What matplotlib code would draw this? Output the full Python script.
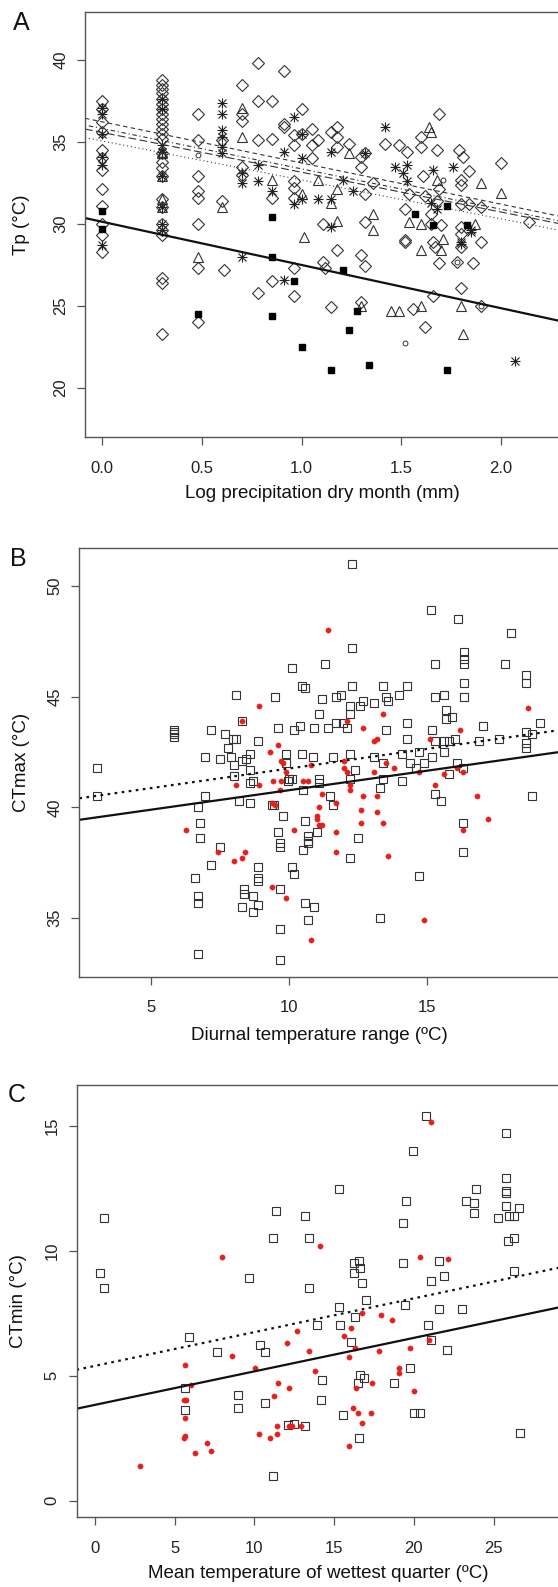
import numpy as np
import matplotlib.pyplot as plt

plt.rcParams['font.family'] = ['Liberation Sans', 'DejaVu Sans']

# ---------------- panel A: Tp vs log precipitation of driest month
diamonds = [
    (0.0, 37.5), (0.0, 37.0), (0.0, 36.2), (0.0, 35.6), (0.0, 34.5), (0.0, 34.0),
    (0.0, 33.3), (0.0, 32.1), (0.0, 31.1), (0.0, 30.0), (0.0, 29.3), (0.0, 28.3),
    (0.3, 38.8), (0.3, 38.5), (0.3, 38.2), (0.3, 38.0), (0.3, 37.6), (0.3, 37.3),
    (0.3, 37.0), (0.3, 36.7), (0.3, 36.4), (0.3, 36.1), (0.3, 35.8), (0.3, 35.5),
    (0.3, 35.2), (0.3, 34.3), (0.3, 33.8), (0.3, 33.4), (0.3, 32.9), (0.3, 31.5),
    (0.3, 31.0), (0.3, 30.0), (0.3, 29.6), (0.3, 29.3), (0.3, 26.7), (0.3, 26.4),
    (0.3, 23.3),
    (0.48, 36.7), (0.48, 35.1), (0.48, 32.9), (0.48, 32.0), (0.48, 31.6),
    (0.48, 30.0), (0.48, 27.3), (0.48, 24.0),
    (0.60, 35.1), (0.60, 31.4), (0.61, 27.2),
    (0.70, 38.5), (0.70, 36.7), (0.70, 36.3), (0.70, 33.5), (0.70, 33.0),
    (0.78, 39.8), (0.78, 37.5), (0.78, 35.1), (0.78, 25.8),
    (0.85, 37.5), (0.85, 35.2), (0.85, 31.6), (0.85, 26.5),
    (0.91, 39.3), (0.91, 36.1), (0.91, 35.9),
    (0.96, 35.4), (0.96, 34.8), (0.96, 32.6), (0.96, 32.2), (0.96, 31.6),
    (0.96, 27.3), (0.96, 25.6),
    (1.00, 37.0), (1.00, 35.5),
    (1.05, 35.8), (1.05, 34.8), (1.05, 34.0), (1.08, 35.1),
    (1.11, 30.0), (1.11, 27.7), (1.12, 27.3),
    (1.15, 35.6), (1.15, 24.9),
    (1.18, 35.9), (1.18, 35.3), (1.18, 34.7), (1.18, 28.4),
    (1.24, 34.9),
    (1.30, 34.1), (1.30, 33.5), (1.30, 28.1), (1.30, 25.2),
    (1.32, 34.3), (1.32, 31.8), (1.32, 30.1), (1.32, 27.4),
    (1.36, 32.5), (1.42, 34.9), (1.49, 34.8), (1.53, 34.4), (1.54, 31.8),
    (1.52, 30.9), (1.52, 29.0), (1.52, 28.9), (1.56, 24.8),
    (1.60, 35.3), (1.60, 34.7), (1.61, 32.9), (1.62, 31.7), (1.62, 23.7),
    (1.69, 36.7), (1.69, 32.1), (1.69, 27.6), (1.68, 34.5), (1.68, 31.4),
    (1.65, 30.6), (1.65, 30.0), (1.70, 29.9), (1.66, 28.9), (1.66, 25.6),
    (1.67, 28.6),
    (1.79, 34.5), (1.81, 34.1), (1.84, 33.2), (1.84, 31.2),
    (1.80, 32.7), (1.80, 32.4), (1.80, 31.2), (1.80, 29.8), (1.80, 29.4),
    (1.80, 28.6), (1.80, 26.1),
    (1.90, 31.0), (1.90, 28.9), (1.90, 25.0), (1.78, 27.7), (1.86, 27.6),
    (2.00, 33.7), (2.14, 30.1),
]
triangles = [
    (0.3, 34.4), (0.3, 34.3), (0.3, 32.9), (0.3, 31.5), (0.3, 31.0),
    (0.48, 28.0), (0.60, 31.0), (0.70, 37.1), (0.70, 35.3), (0.85, 32.7),
    (1.00, 31.8), (1.01, 29.2), (1.08, 32.7), (1.15, 31.3), (1.18, 30.2),
    (1.18, 32.1), (1.24, 34.3), (1.30, 25.0), (1.36, 30.6), (1.36, 29.6),
    (1.45, 24.7), (1.49, 24.7), (1.54, 30.1), (1.64, 35.9), (1.65, 35.6),
    (1.68, 32.7), (1.60, 30.0), (1.60, 28.4), (1.60, 25.0), (1.71, 29.1),
    (1.70, 28.4), (1.87, 30.0), (1.90, 32.5), (1.80, 25.0), (1.81, 23.3),
    (2.00, 31.9),
]
asterisks = [
    (0.0, 37.1), (0.0, 36.7), (0.0, 35.5), (0.0, 34.1), (0.0, 33.6), (0.0, 28.7),
    (0.3, 37.6), (0.3, 37.0), (0.3, 34.8), (0.3, 34.4), (0.3, 32.9), (0.3, 31.0),
    (0.3, 30.0), (0.3, 29.6),
    (0.60, 37.4), (0.60, 36.7), (0.60, 35.7), (0.60, 35.3), (0.60, 34.7), (0.60, 34.3),
    (0.70, 33.1), (0.70, 32.5), (0.70, 28.0), (0.78, 33.6), (0.78, 32.6),
    (0.85, 32.0), (0.91, 34.4), (0.91, 26.6), (0.96, 36.5), (0.96, 31.2),
    (1.00, 35.5), (1.00, 34.0), (1.00, 31.5), (1.08, 31.5),
    (1.15, 34.4), (1.15, 31.5), (1.15, 29.8), (1.21, 32.7), (1.26, 32.0),
    (1.32, 34.3), (1.42, 35.9), (1.47, 33.5), (1.51, 33.1), (1.53, 33.6),
    (1.53, 32.6), (1.66, 33.3), (1.65, 31.3), (1.68, 30.9), (1.76, 33.5),
    (1.85, 29.6), (1.85, 29.5), (1.80, 28.9), (1.80, 28.8), (2.07, 21.6),
]
filled_sq = [
    (0.0, 30.8), (0.0, 29.7), (0.48, 24.5), (0.85, 30.4), (0.85, 28.0),
    (0.85, 24.4), (0.96, 26.5), (1.00, 22.5), (1.15, 21.1), (1.21, 27.2),
    (1.24, 23.5), (1.28, 24.7), (1.34, 21.4), (1.57, 30.6), (1.66, 29.9),
    (1.73, 31.1), (1.73, 21.1), (1.83, 29.9),
]
small_circ = [(0.48, 34.2), (1.52, 22.7), (1.78, 27.7), (1.90, 25.0), (1.71, 32.7)]

# regression lines of panel A: (intercept, slope)
tp_fit_main = (30.13, -2.64)
tp_fit_dashed = (36.23, -2.515)
tp_fit_dashdot = (35.82, -2.464)
tp_fit_longdash = (35.58, -2.43)
tp_fit_dotted = (35.06, -2.38)

# ---------------- panel B: CTmax vs diurnal temperature range
ctmax_sq = [
    (12.29, 51.0), (15.13, 48.9), (16.13, 48.5), (18.03, 47.9), (12.29, 47.2),
    (11.29, 46.5), (10.10, 46.3), (15.30, 46.5), (17.81, 46.5), (16.33, 47.0),
    (16.33, 46.7), (16.33, 46.5), (16.33, 45.6), (18.6, 46.0), (18.6, 45.6),
    (10.49, 45.5), (10.6, 45.4), (12.29, 45.5), (13.39, 45.5), (14.29, 45.5),
    (8.08, 45.1), (9.48, 45.0), (11.2, 44.9), (11.71, 45.0), (11.88, 45.1),
    (12.2, 44.6), (12.68, 44.8), (12.59, 44.6), (13.1, 44.7), (13.52, 45.0),
    (13.6, 44.8), (14.0, 45.1), (15.3, 45.0), (15.6, 45.1), (16.33, 45.0),
    (11.1, 44.2), (12.2, 44.2), (15.7, 44.4), (15.7, 44.0), (15.9, 44.1),
    (11.71, 43.8), (11.97, 43.8), (12.1, 43.6), (11.4, 43.6), (10.9, 43.6),
    (10.4, 43.7), (10.2, 43.5), (9.6, 43.6), (13.52, 43.5), (14.29, 43.8),
    (15.2, 43.5), (17.02, 43.7), (18.6, 43.4), (19.1, 43.8), (18.8, 43.3),
    (5.85, 43.2), (5.85, 43.3), (5.85, 43.4), (5.85, 43.5),
    (7.19, 43.5), (7.68, 43.3), (7.98, 43.1), (8.08, 43.1), (7.78, 42.7),
    (8.88, 43.0), (14.29, 43.1), (15.3, 43.0), (15.6, 43.0), (15.8, 43.0),
    (16.0, 43.1), (16.9, 43.0), (17.6, 43.1), (18.6, 42.9), (18.6, 42.7),
    (6.97, 42.3), (7.49, 42.2), (7.89, 42.3), (8.3, 42.1), (8.46, 42.2),
    (8.6, 42.4), (8.0, 41.9), (9.88, 42.4), (10.49, 42.4), (10.88, 42.3),
    (11.6, 42.3), (12.2, 42.4), (13.1, 42.3), (14.1, 42.4), (14.7, 42.5),
    (15.2, 42.3), (15.6, 42.5), (9.88, 42.0), (13.39, 42.0), (14.4, 42.0),
    (14.6, 41.8), (14.9, 42.0), (16.1, 42.0), (16.3, 41.8), (12.4, 41.7),
    (8.6, 41.7), (8.0, 41.4), (15.8, 41.5), (10.0, 41.3), (11.1, 41.3),
    (12.2, 41.3), (13.4, 41.3), (3.05, 41.8), (8.69, 41.2), (3.05, 40.5),
    (6.69, 40.0), (6.97, 40.5), (6.79, 39.3), (6.79, 38.6), (7.49, 38.2),
    (7.19, 37.4), (6.59, 36.8), (6.69, 36.0), (6.69, 35.7), (6.69, 33.4),
    (8.2, 40.3), (8.6, 40.2), (8.6, 41.1), (9.37, 40.1), (9.46, 40.1),
    (9.79, 39.6), (9.6, 38.9), (9.69, 38.4), (9.69, 38.2), (8.89, 37.3),
    (8.89, 36.8), (8.89, 36.7), (8.38, 36.3), (8.38, 36.1), (8.69, 36.0),
    (8.89, 35.6), (8.3, 35.5), (8.69, 35.3), (9.69, 36.3), (9.69, 34.5),
    (9.69, 33.1), (10.1, 37.3), (10.2, 37.0), (9.97, 41.2), (10.1, 41.3),
    (10.5, 40.8), (10.6, 39.4), (10.7, 38.7), (10.7, 38.5), (10.7, 38.4),
    (10.5, 38.1), (10.6, 35.7), (10.9, 35.5), (10.7, 34.9), (11.0, 38.9),
    (11.1, 41.1), (11.5, 40.5), (11.6, 40.1), (12.5, 38.6), (12.2, 37.7),
    (13.3, 40.9), (14.1, 41.2), (13.3, 35.0), (14.7, 36.9), (15.3, 40.6),
    (15.5, 40.3), (16.3, 39.3), (16.3, 38.0), (18.8, 40.5), (8.3, 43.9),
]
ctmax_red = [
    (11.42, 48.0), (8.92, 44.6), (8.3, 43.9), (12.1, 43.9), (12.7, 43.6),
    (13.41, 44.2), (16.2, 43.5), (18.65, 44.5), (15.1, 43.1), (13.1, 43.0),
    (13.2, 43.1), (9.6, 42.8), (9.3, 42.5), (9.7, 42.1), (9.8, 42.0),
    (10.8, 41.9), (12.0, 42.1), (12.0, 41.8), (13.5, 42.0), (13.8, 41.8),
    (9.9, 41.6), (12.1, 41.6), (13.1, 41.6), (14.7, 41.6), (15.6, 41.5),
    (16.1, 41.8), (16.3, 41.6), (9.7, 41.2), (10.7, 41.2),
    (6.28, 39.0), (7.42, 38.0), (8.0, 37.6), (8.3, 37.7), (8.4, 38.0),
    (8.1, 41.0), (8.9, 41.0), (9.43, 41.2), (9.68, 40.8), (9.4, 40.2),
    (9.5, 40.1), (9.4, 36.4), (9.9, 35.9), (10.5, 41.2), (10.2, 39.0),
    (10.8, 34.0), (11.2, 40.6), (11.1, 40.0), (11.0, 39.6), (11.0, 39.5),
    (11.1, 39.2), (11.2, 39.2), (11.7, 40.2), (11.7, 38.9), (11.7, 38.0),
    (12.2, 41.0), (12.2, 40.8), (12.6, 39.9), (12.6, 39.3), (12.7, 40.5),
    (13.2, 40.5), (13.2, 39.8), (13.4, 39.3), (13.6, 37.8), (14.9, 34.9),
    (15.3, 41.0), (16.3, 39.0), (16.8, 40.5), (17.2, 39.5),
]
ctmax_fit_solid = (39.02, 0.176)
ctmax_fit_dotted = (39.99, 0.177)

# ---------------- panel C: CTmin vs mean temperature of wettest quarter
ctmin_sq = [
    (20.76, 15.4), (25.78, 14.7), (19.98, 14.0), (15.29, 12.48), (23.88, 12.48),
    (25.78, 12.9), (25.78, 12.4), (25.78, 12.3), (23.3, 12.0), (23.77, 11.9),
    (19.49, 12.0), (25.78, 11.8), (26.58, 11.7), (23.77, 11.5), (25.29, 11.3),
    (25.96, 11.4), (26.3, 11.4), (0.56, 11.3), (11.36, 11.6), (13.17, 11.4),
    (19.3, 11.1), (11.18, 10.5), (13.4, 10.5), (25.9, 10.4), (26.3, 10.5),
    (16.25, 9.5), (16.58, 9.6), (16.65, 9.3), (16.25, 9.1), (19.3, 9.5),
    (21.6, 9.6), (26.3, 9.2), (0.29, 9.1), (0.56, 8.5), (9.67, 8.9),
    (13.4, 8.5), (16.76, 8.7), (21.1, 8.8), (21.9, 9.0),
    (16.99, 8.05), (15.29, 7.76), (19.42, 7.85), (21.6, 7.66), (23.0, 7.66),
    (16.3, 7.35), (13.9, 7.04), (15.36, 7.04), (20.87, 7.04), (5.87, 6.55),
    (16.05, 6.34), (21.1, 6.44), (7.66, 5.94), (10.38, 6.24), (10.67, 5.94),
    (22.1, 6.05), (19.78, 5.32), (16.65, 5.04), (16.88, 4.93), (16.47, 4.73),
    (18.77, 4.73), (14.24, 4.84), (5.65, 4.52), (8.95, 4.22), (8.95, 3.72),
    (10.67, 3.91), (14.17, 4.02), (5.65, 3.63), (15.58, 3.43), (20.0, 3.52),
    (20.38, 3.52), (12.08, 3.04), (12.48, 3.09), (13.2, 3.01), (16.58, 2.51),
    (26.67, 2.72), (11.18, 1.0),
]
ctmin_red = [
    (21.1, 15.15), (7.99, 9.77), (14.1, 10.2), (20.38, 9.77), (22.16, 9.67),
    (16.76, 7.53), (17.92, 7.42), (18.6, 7.24), (12.68, 6.81), (16.03, 6.92),
    (15.64, 6.61), (12.03, 6.33), (13.42, 6.01), (16.29, 6.12), (17.81, 6.01),
    (19.78, 6.12), (20.94, 6.44), (8.59, 5.81), (15.92, 5.74), (5.65, 5.43),
    (10.02, 5.32), (13.82, 5.2), (19.04, 5.32), (19.04, 5.11), (6.05, 4.62),
    (11.5, 4.72), (17.36, 4.72), (12.18, 4.52), (16.38, 4.52), (20.0, 4.41),
    (11.2, 4.19), (5.58, 4.02), (5.69, 4.02), (16.18, 3.72), (16.47, 3.52),
    (17.32, 3.52), (5.65, 3.32), (16.72, 3.12), (11.43, 3.01), (12.19, 3.01),
    (12.34, 3.01), (12.9, 3.01), (10.27, 2.69), (11.43, 2.69), (5.65, 2.58),
    (5.58, 2.5), (11.0, 2.5), (7.0, 2.31), (7.28, 1.99), (6.27, 1.9),
    (15.92, 2.19), (2.81, 1.38),
]
ctmin_fit_solid = (3.84, 0.134)
ctmin_fit_dotted = (5.40, 0.135)

ink = '#333333'
red = '#e3201b'

fig = plt.figure(figsize=(5.58, 15.87), dpi=100)
W, H = 558.0, 1587.0


def make_axes(left, top, bottom, right=560):
    return fig.add_axes([left / W, 1 - bottom / H, (right - left) / W, (bottom - top) / H])


def style(ax, xticks, yticks, xlabel, ylabel, xlab_pos, ylab_x, letter, letter_xy):
    ax.set_xticks(xticks)
    ax.set_yticks(yticks)
    for s in ax.spines.values():
        s.set_color('#555555')
        s.set_linewidth(1.0)
    ax.tick_params(direction='out', length=6, width=0.9, color='#555555',
                   labelsize=12, labelcolor='#222222')
    ax.tick_params(axis='x', pad=11)
    ax.tick_params(axis='y', pad=6)
    for lab in ax.get_yticklabels():
        lab.set_rotation(90)
        lab.set_va('center')
    ax.set_xlabel(xlabel, fontsize=13.5, color='#111111', va='center')
    ax.xaxis.set_label_coords(0.5, xlab_pos)
    ax.set_ylabel(ylabel, fontsize=13.5, color='#111111', va='center')
    ax.yaxis.set_label_coords(ylab_x, 0.5)
    fig.text(letter_xy[0] / W, 1 - letter_xy[1] / H, letter, fontsize=18,
             ha='center', va='center', color='#111111')


# ---- A
axA = make_axes(85, 12, 437)
axA.set_xlim(-0.085, 2.295)
axA.set_ylim(16.99, 42.93)
d = np.array(diamonds).T
axA.plot(d[0], d[1], 'D', ms=6.0, mfc='none', mec=ink, mew=0.8)
t = np.array(triangles).T
axA.plot(t[0], t[1], '^', ms=7.0, mfc='none', mec=ink, mew=0.8)
a = np.array(asterisks).T
axA.plot(a[0], a[1], '+', ms=7.5, mec='#222222', mew=0.8)
axA.plot(a[0], a[1], 'x', ms=5.5, mec='#222222', mew=0.8)
f = np.array(filled_sq).T
axA.plot(f[0], f[1], 's', ms=4.5, mfc='black', mec='black')
c = np.array(small_circ).T
axA.plot(c[0], c[1], 'o', ms=3.5, mfc='none', mec=ink, mew=0.7)
axA.axline((0, tp_fit_main[0]), slope=tp_fit_main[1], color='#111111', lw=1.6)
axA.axline((0, tp_fit_dashed[0]), slope=tp_fit_dashed[1], color='#333333', lw=0.8,
           dashes=(4, 3))
axA.axline((0, tp_fit_dashdot[0]), slope=tp_fit_dashdot[1], color='#333333', lw=0.8,
           dashes=(1, 2.5, 4, 2.5))
axA.axline((0, tp_fit_longdash[0]), slope=tp_fit_longdash[1], color='#333333', lw=0.8,
           dashes=(7, 3))
axA.axline((0, tp_fit_dotted[0]), slope=tp_fit_dotted[1], color='#444444', lw=0.8,
           dashes=(1, 2.5))
style(axA, [0.0, 0.5, 1.0, 1.5, 2.0], [20, 25, 30, 35, 40],
      'Log precipitation dry month (mm)', 'Tp (°C)', -0.132, -0.133,
      'A', (21, 23))
axA.set_xticklabels(['0.0', '0.5', '1.0', '1.5', '2.0'])

# ---- B
axB = make_axes(79.4, 547.7, 976.7)
axB.set_xlim(2.41, 19.82)
axB.set_ylim(32.36, 51.73)
s = np.array(ctmax_sq).T
axB.plot(s[0], s[1], 's', ms=5.2, mfc='none', mec=ink, mew=0.8)
r = np.array(ctmax_red).T
axB.plot(r[0], r[1], 'o', ms=3.8, mfc=red, mec=red, mew=0.3)
axB.axline((0, ctmax_fit_solid[0]), slope=ctmax_fit_solid[1], color='#111111', lw=1.6)
axB.axline((0, ctmax_fit_dotted[0]), slope=ctmax_fit_dotted[1], color='#111111', lw=1.6,
           dashes=(1.2, 2))
style(axB, [5, 10, 15], [35, 40, 45, 50],
      'Diurnal temperature range (ºC)', 'CTmax (°C)', -0.136, -0.12,
      'B', (18, 559))

# ---- C
axC = make_axes(76.5, 1085, 1517.3)
axC.set_xlim(-1.16, 29.17)
axC.set_ylim(-0.66, 16.64)
s = np.array(ctmin_sq).T
axC.plot(s[0], s[1], 's', ms=5.2, mfc='none', mec=ink, mew=0.8)
r = np.array(ctmin_red).T
axC.plot(r[0], r[1], 'o', ms=3.8, mfc=red, mec=red, mew=0.3)
axC.axline((0, ctmin_fit_solid[0]), slope=ctmin_fit_solid[1], color='#111111', lw=1.6)
axC.axline((0, ctmin_fit_dotted[0]), slope=ctmin_fit_dotted[1], color='#111111', lw=1.6,
           dashes=(1.2, 2))
style(axC, [0, 5, 10, 15, 20, 25], [0, 5, 10, 15],
      'Mean temperature of wettest quarter (ºC)', 'CTmin (°C)', -0.129, -0.12,
      'C', (17, 1095))

fig.savefig('out.png', dpi=100)
